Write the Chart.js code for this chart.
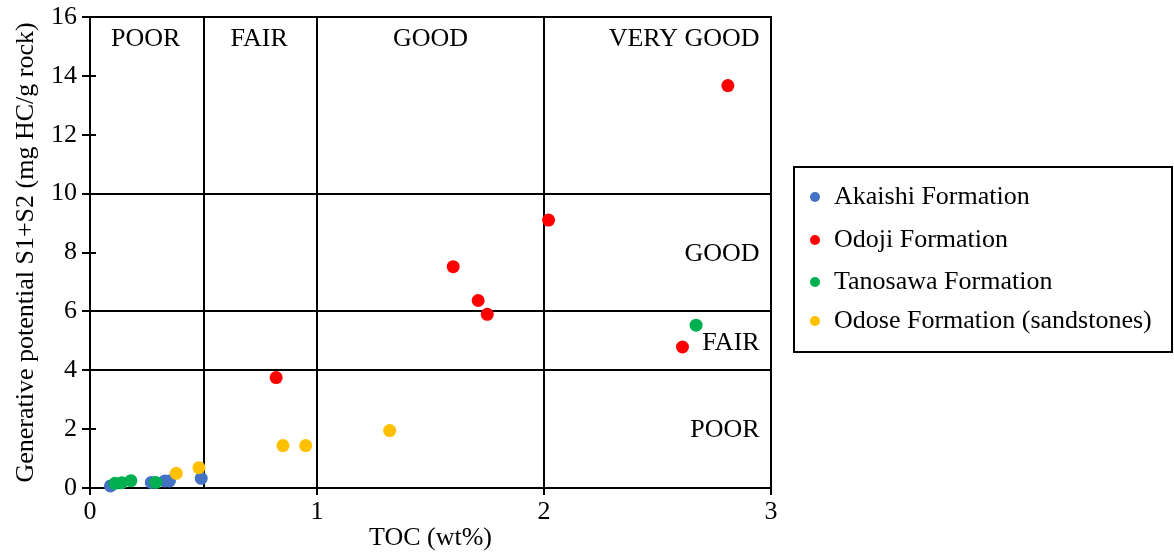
<!DOCTYPE html>
<html>
<head>
<meta charset="utf-8">
<script src="https://cdn.jsdelivr.net/npm/chart.js@4.4.1/dist/chart.umd.min.js"></script>
<style>
  html, body { margin: 0; padding: 0; background: #ffffff; }
  #wrap { width: 1174px; height: 552px; position: relative; }
</style>
</head>
<body>
<div id="wrap"><canvas id="c" width="1174" height="552"></canvas></div>
<script>
// TOC (wt%) and S1+S2 (mg HC/g rock) for each formation
const akaishiTOC = [0.09, 0.27, 0.33, 0.35, 0.49];
const akaishiS = [0.07, 0.19, 0.24, 0.24, 0.33];

const odojiTOC = [2.81, 2.02, 1.60, 1.71, 1.75, 2.61, 0.82];
const odojiS = [13.67, 9.10, 7.52, 6.37, 5.90, 4.79, 3.75];

const tanosawaTOC = [0.11, 0.14, 0.18, 0.29, 2.67];
const tanosawaS = [0.16, 0.18, 0.25, 0.19, 5.53];

const odoseTOC = [0.38, 0.48, 0.85, 0.95, 1.32];
const odoseS = [0.50, 0.69, 1.44, 1.44, 1.95];

const seriesNames = ['Akaishi Formation', 'Odoji Formation', 'Tanosawa Formation', 'Odose Formation (sandstones)'];
const seriesColors = ['#4472C4', '#FF0000', '#00B050', '#FFC000'];

// Classification boundaries and class names
const tocBounds = [0.5, 1, 2];
const potentialBounds = [4, 6, 10];
const tocClasses = ['POOR', 'FAIR', 'GOOD', 'VERY GOOD'];
const tocClassX = [0.245, 0.745, 1.5, 2.95];
const potentialClasses = ['GOOD', 'FAIR', 'POOR'];
const potentialClassY = [7.95, 4.93, 1.97];

const xTicks = [0, 1, 2, 3];
const yTicks = [0, 2, 4, 6, 8, 10, 12, 14, 16];

const FONT = '"Liberation Serif", "Times New Roman", serif';

function pairs(xs, ys) { return xs.map((x, i) => ({ x: x, y: ys[i] })); }

const seriesData = [
  pairs(akaishiTOC, akaishiS),
  pairs(odojiTOC, odojiS),
  pairs(tanosawaTOC, tanosawaS),
  pairs(odoseTOC, odoseS)
];

// Frame, class boundaries, crossing tick marks and class names
const classGrid = {
  id: 'classGrid',
  beforeDatasetsDraw(chart) {
    const { ctx, chartArea: a, scales: { x, y } } = chart;
    ctx.save();
    ctx.strokeStyle = '#000';
    ctx.lineWidth = 2;
    ctx.beginPath();
    tocBounds.forEach(v => {
      const px = Math.round(x.getPixelForValue(v));
      ctx.moveTo(px, a.top); ctx.lineTo(px, a.bottom);
    });
    potentialBounds.forEach(v => {
      const py = Math.round(y.getPixelForValue(v));
      ctx.moveTo(a.left, py); ctx.lineTo(a.right, py);
    });
    // top and right frame
    ctx.moveTo(a.left, a.top); ctx.lineTo(a.right, a.top); ctx.lineTo(a.right, a.bottom);
    ctx.stroke();

    // tick marks across the axes
    ctx.beginPath();
    yTicks.forEach(v => {
      const py = Math.round(y.getPixelForValue(v));
      ctx.moveTo(a.left - 8, py); ctx.lineTo(a.left + 6, py);
    });
    xTicks.forEach(v => {
      const px = Math.round(x.getPixelForValue(v));
      ctx.moveTo(px, a.bottom + 7); ctx.lineTo(px, a.bottom - 6);
    });
    ctx.stroke();

    ctx.fillStyle = '#000';
    ctx.font = '26px ' + FONT;
    ctx.textBaseline = 'middle';
    const topY = y.getPixelForValue(15.25);
    tocClasses.forEach((t, i) => {
      ctx.textAlign = i === tocClasses.length - 1 ? 'right' : 'center';
      ctx.fillText(t, x.getPixelForValue(tocClassX[i]), topY);
    });
    ctx.textAlign = 'right';
    potentialClasses.forEach((t, i) => {
      ctx.fillText(t, x.getPixelForValue(2.95), y.getPixelForValue(potentialClassY[i]));
    });
    ctx.restore();
  },
  afterDraw(chart) {
    // boxed legend to the right of the plot
    const { ctx } = chart;
    ctx.save();
    ctx.strokeStyle = '#000';
    ctx.lineWidth = 2;
    ctx.strokeRect(794, 167, 378, 185);
    ctx.font = '26px ' + FONT;
    ctx.textBaseline = 'middle';
    ctx.textAlign = 'left';
    const rows = [197, 240, 282, 321];
    chart.data.datasets.forEach((ds, i) => {
      ctx.fillStyle = ds.backgroundColor;
      ctx.beginPath();
      ctx.arc(815, rows[i], 5, 0, Math.PI * 2);
      ctx.fill();
      ctx.fillStyle = '#000';
      ctx.fillText(ds.label, 834, rows[i]);
    });
    ctx.restore();
  }
};

new Chart(document.getElementById('c'), {
  type: 'scatter',
  data: {
    datasets: seriesNames.map((name, i) => ({
      label: name,
      data: seriesData[i],
      backgroundColor: seriesColors[i],
      borderWidth: 0,
      pointRadius: 6.5,
      pointHoverRadius: 6.5,
      clip: false,
      order: 4 - i
    }))
  },
  options: {
    responsive: false,
    animation: false,
    events: [],
    layout: { padding: { left: 0, top: 17, right: 403, bottom: 0 } },
    plugins: { legend: { display: false }, tooltip: { enabled: false } },
    scales: {
      x: {
        type: 'linear',
        min: 0, max: 3,
        afterBuildTicks(s) { s.ticks = xTicks.map(v => ({ value: v })); },
        afterFit(s) { s.height = 64; s.paddingLeft = 0; s.paddingRight = 0; },
        grid: { display: false, drawTicks: false },
        border: { display: true, color: '#000', width: 2 },
        ticks: { color: '#000', padding: 9, font: { family: FONT, size: 26 }, maxRotation: 0 },
        title: { display: true, text: 'TOC (wt%)', color: '#000', font: { family: FONT, size: 26, lineHeight: 1 }, padding: { top: 0, bottom: 1 } }
      },
      y: {
        type: 'linear',
        min: 0, max: 16,
        afterBuildTicks(s) { s.ticks = yTicks.map(v => ({ value: v })); },
        afterFit(s) { s.width = 90; s.paddingTop = 0; s.paddingBottom = 0; },
        grid: { display: false, drawTicks: false },
        border: { display: true, color: '#000', width: 2 },
        ticks: { color: '#000', padding: 13, font: { family: FONT, size: 26 } },
        title: { display: true, text: 'Generative potential S1+S2 (mg HC/g rock)', color: '#000', font: { family: FONT, size: 26, lineHeight: 1 }, padding: { top: 13, bottom: 0 } }
      }
    }
  },
  plugins: [classGrid]
});
</script>
</body>
</html>
